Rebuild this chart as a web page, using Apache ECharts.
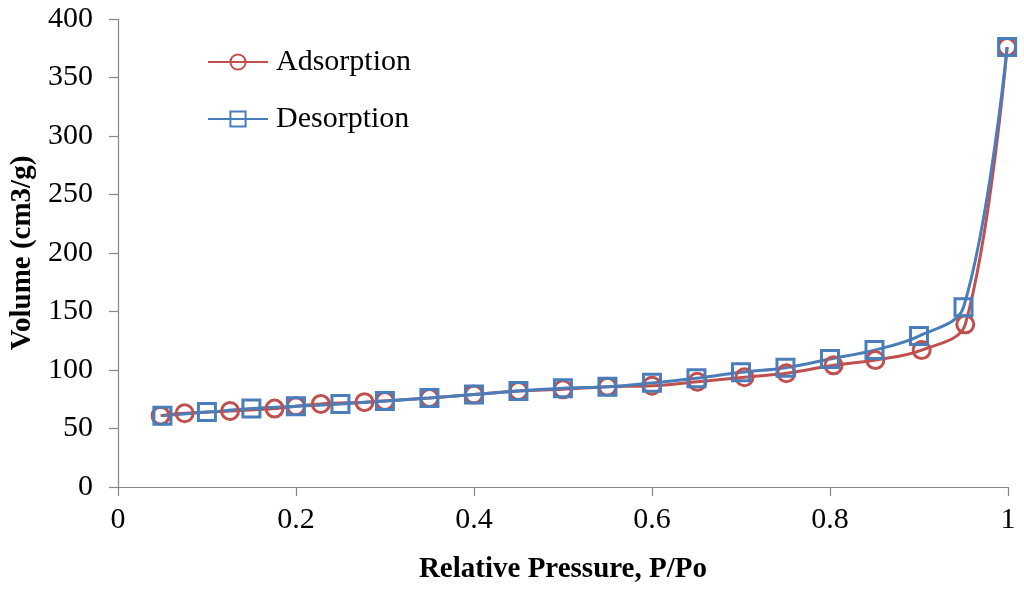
<!DOCTYPE html>
<html><head><meta charset="utf-8">
<script src="https://cdn.jsdelivr.net/npm/echarts@6/dist/echarts.min.js"></script>
<style>html,body{margin:0;padding:0;background:#fff}#c{width:1024px;height:590px}</style>
</head><body><div id="c"></div>
<script>
const adsX = [0.048,0.075,0.126,0.176,0.2,0.228,0.277,0.3,0.35,0.4,0.45,0.5,0.55,0.6,0.651,0.704,0.751,0.804,0.851,0.903,0.952,0.999];
const adsY = [61,63,65,67,69,71,72.5,73.5,76,79,82,83.5,85.7,86.5,90,93.8,97.2,104,108.5,117,139,376];
const desX = [0.05,0.1,0.15,0.2,0.25,0.3,0.35,0.4,0.45,0.5,0.55,0.6,0.65,0.7,0.75,0.8,0.85,0.9,0.95,0.999];
const desY = [61,64,67,69,71,73.5,76,79,82,84.4,85.7,89,93,98,102,109.4,117,129,153.6,376];
const xTicks = [0,0.2,0.4,0.6,0.8,1];
const yTicks = [0,50,100,150,200,250,300,350,400];

const zip = (a,b)=>a.map((v,i)=>[v,b[i]]);
const chart = echarts.init(document.getElementById('c'));
const serif = 'Liberation Serif';
chart.setOption({
  animation:false,
  backgroundColor:'#fff',
  grid:{left:115,right:16,top:19,bottom:103},
  legend:{
    orient:'vertical', left:202, top:42, itemWidth:60, itemHeight:19, itemGap:27,
    textStyle:{fontFamily:serif,fontSize:30,color:'#000',padding:[0,0,0,3]},
    data:['Adsorption','Desorption']
  },
  xAxis:{
    type:'value', min:0, max:1, interval:0.2,
    splitLine:{show:false},
    axisLine:{lineStyle:{color:'#868686',width:1.2}},
    axisTick:{show:true,length:9,lineStyle:{color:'#868686',width:1.2}},
    axisLabel:{fontFamily:serif,fontSize:30,color:'#000',margin:18,formatter:v=>String(+v.toFixed(1))},
    name:'Relative Pressure, P/Po', nameLocation:'middle', nameGap:68,
    nameTextStyle:{fontFamily:serif,fontSize:29,fontWeight:'bold',color:'#000'}
  },
  yAxis:{
    type:'value', min:0, max:400, interval:50,
    splitLine:{show:false},
    axisLine:{show:true,lineStyle:{color:'#868686',width:1.2}},
    axisTick:{show:true,length:9,lineStyle:{color:'#868686',width:1.2}},
    axisLabel:{fontFamily:serif,fontSize:30,color:'#000',margin:25},
    name:'Volume (cm3/g)', nameLocation:'middle', nameGap:79, nameRotate:90,
    nameTextStyle:{fontFamily:serif,fontSize:29,fontWeight:'bold',color:'#000'}
  },
  series:[
    {name:'Adsorption',type:'line',data:zip(adsX,adsY),smooth:0.35,
     symbol:'circle',symbolSize:17,
     lineStyle:{color:'#C0504D',width:3},
     itemStyle:{color:'rgba(255,255,255,0)',borderColor:'#C0504D',borderWidth:3}},
    {name:'Desorption',type:'line',data:zip(desX,desY),smooth:0.35,
     symbol:'rect',symbolSize:17,
     lineStyle:{color:'#4A7EBB',width:3},
     itemStyle:{color:'rgba(255,255,255,0)',borderColor:'#4A7EBB',borderWidth:3}}
  ]
});
</script></body></html>
